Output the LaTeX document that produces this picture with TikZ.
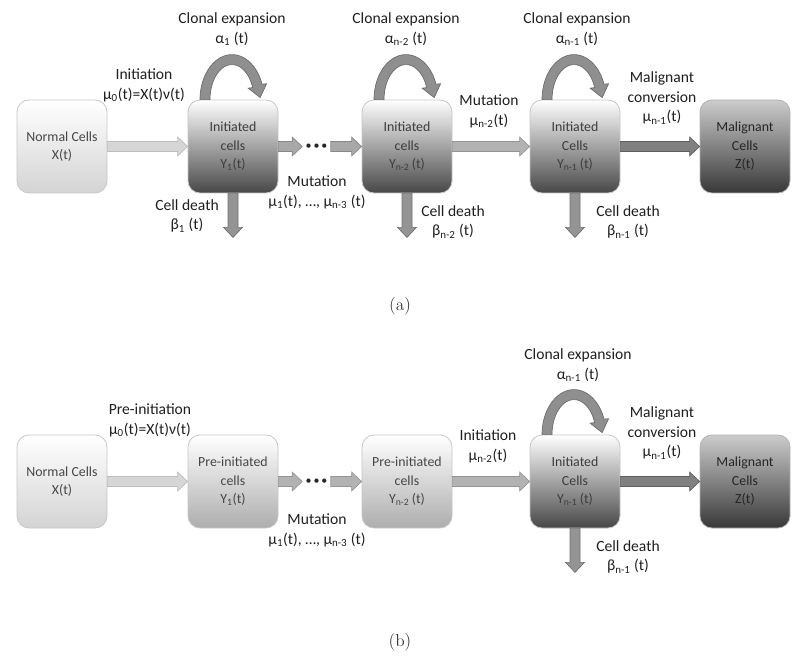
\documentclass[tikz,border=0pt]{standalone}
\usepackage{fontspec}
\newfontfamily\calfont{Carlito}
\usetikzlibrary{calc}
\newcommand\boxfont{\calfont\fontsize{10.4}{13.9}\selectfont}
\newcommand\lblfont{\calfont\fontsize{11.7}{14.8}\selectfont}
\newcommand\capfont{\fontsize{13}{15}\selectfont}
\newcommand\clonalloop[1]{%
  \filldraw[loopsty, shift={(#1.north)}]
    plot[domain=180:20, samples=36] ({-1+32*cos(\x)},{-45*sin(\x)})
    -- (33.6,-15.9) -- (27.2,-2.0) -- (15.15,-11.42)
    -- plot[domain=20:180, samples=36] ({-1+22*cos(\x)},{-35*sin(\x)})
    -- cycle;}
\begin{document}
\begin{tikzpicture}[x=0.75pt, y=-0.75pt,
  box/.style={rounded corners=9pt, minimum width=67.5pt, minimum height=69.75pt,
    draw=black!22, line width=0.6pt, align=center, font=\boxfont, text=black!72, inner sep=1pt},
  normalbox/.style={box, top color=white, bottom color=black!17},
  prebox/.style={box, top color=white, middle color=black!7, bottom color=black!32},
  initbox/.style={box, top color=white, middle color=black!12, bottom color=black!72, text=black!76},
  malbox/.style={box, top color=black!20, middle color=black!42, bottom color=black!78,
    draw=black!30, text=black!85},
  dotsn/.style={minimum width=21pt, inner sep=0pt, font=\calfont\fontsize{9}{9}\selectfont, text=black!85},
  lbl/.style={font=\lblfont, text=black!88, align=center, inner sep=0pt},
  captxt/.style={font=\capfont, text=black!80, inner sep=0pt},
  arrL/.style={fill=black!16, draw=black!26, line width=0.5pt},
  arrM/.style={fill=black!34, draw=black!47, line width=0.5pt},
  arrM2/.style={fill=black!30, draw=black!42, line width=0.5pt},
  arrD/.style={fill=black!50, draw=black!63, line width=0.5pt},
  arrV/.style={fill=black!42, draw=black!56, line width=0.5pt},
  loopsty/.style={fill=black!44, draw=black!58, line width=0.5pt},
  blk/.style={to path={
    ($(\tikztotarget)!7.5pt!(\tikztostart)$) coordinate (blkH)
    ($(\tikztostart)!3.75pt!90:(\tikztotarget)$)
    -- ($(blkH)!3.75pt!-90:(\tikztostart)$)
    -- ($(blkH)!7.1pt!-90:(\tikztostart)$)
    -- (\tikztotarget)
    -- ($(blkH)!7.1pt!90:(\tikztostart)$)
    -- ($(blkH)!3.75pt!90:(\tikztostart)$)
    -- ($(\tikztostart)!3.75pt!-90:(\tikztotarget)$)
    -- cycle}}
]
\useasboundingbox (0,0) rectangle (800,663);

% ---------------- (a) ----------------
\node[normalbox] (na) at (62,146.5) {Normal Cells\\X(t)};
\node[initbox] (y1a) at (233,146.5) {Initiated\\cells\\Y\textsubscript{1}(t)};
\node[initbox] (yn2a) at (407,146.5) {Initiated\\cells\\Y\textsubscript{n-2}\,(t)};
\node[initbox] (yn1a) at (575,146.5) {Initiated\\Cells\\Y\textsubscript{n-1}\,(t)};
\node[malbox] (ma) at (745,146.5) {Malignant\\Cells\\Z(t)};
\node[dotsn] (dotsa) at (316.5,146.5) {\textbullet\,\textbullet\,\textbullet};

\clonalloop{y1a}
\clonalloop{yn2a}
\clonalloop{yn1a}

\filldraw[arrL] (na.east) to[blk] (y1a.west);
\filldraw[arrM] (y1a.east) to[blk] (dotsa.west);
\filldraw[arrM] (dotsa.east) to[blk] (yn2a.west);
\filldraw[arrM2] (yn2a.east) to[blk] (yn1a.west);
\filldraw[arrD] (yn1a.east) to[blk] (ma.west);

\coordinate (da1) at ($(y1a.south)+(0,44)$);
\coordinate (da2) at ($(yn2a.south)+(0,44)$);
\coordinate (da3) at ($(yn1a.south)+(0,44)$);
\filldraw[arrV] (y1a.south) to[blk] (da1);
\filldraw[arrV] (yn2a.south) to[blk] (da2);
\filldraw[arrV] (yn1a.south) to[blk] (da3);

\node[lbl] (cla1) at (232,29) {Clonal expansion\\α\textsubscript{1} (t)};
\node[lbl] (cla2) at (406,29) {Clonal expansion\\α\textsubscript{n-2} (t)};
\node[lbl] (cla3) at (577,29) {Clonal expansion\\α\textsubscript{n-1} (t)};
\node[lbl] (inia) at (144,85) {Initiation\\μ\textsubscript{0}(t)=X(t)ν(t)};
\node[lbl] (cda1) at (187,216) {Cell death\\β\textsubscript{1} (t)};
\node[lbl] (muta1) at (317,192) {Mutation\\μ\textsubscript{1}(t), …, μ\textsubscript{n-3} (t)};
\node[lbl] (cda2) at (453,222) {Cell death\\β\textsubscript{n-2} (t)};
\node[lbl] (muta2) at (489,111) {Mutation\\μ\textsubscript{n-2}(t)};
\node[lbl] (cda3) at (628,222) {Cell death\\β\textsubscript{n-1} (t)};
\node[lbl] (mca) at (662,98) {Malignant\\conversion\\μ\textsubscript{n-1}(t)};
\node[captxt] (capa) at (400,306) {(a)};

% ---------------- (b) ----------------
\node[normalbox] (nb) at (62,481.5) {Normal Cells\\X(t)};
\node[prebox] (y1b) at (233,481.5) {Pre-initiated\\cells\\Y\textsubscript{1}(t)};
\node[prebox] (yn2b) at (407,481.5) {Pre-initiated\\cells\\Y\textsubscript{n-2}\,(t)};
\node[initbox] (yn1b) at (575,481.5) {Initiated\\Cells\\Y\textsubscript{n-1}\,(t)};
\node[malbox] (mb) at (745,481.5) {Malignant\\Cells\\Z(t)};
\node[dotsn] (dotsb) at (316.5,481.5) {\textbullet\,\textbullet\,\textbullet};

\clonalloop{yn1b}

\filldraw[arrL] (nb.east) to[blk] (y1b.west);
\filldraw[arrM2] (y1b.east) to[blk] (dotsb.west);
\filldraw[arrM2] (dotsb.east) to[blk] (yn2b.west);
\filldraw[arrM2] (yn2b.east) to[blk] (yn1b.west);
\filldraw[arrD] (yn1b.east) to[blk] (mb.west);

\coordinate (db3) at ($(yn1b.south)+(0,44)$);
\filldraw[arrV] (yn1b.south) to[blk] (db3);

\node[lbl] (preb) at (150,420) {Pre-initiation\\μ\textsubscript{0}(t)=X(t)ν(t)};
\node[lbl] (mutb1) at (317,530) {Mutation\\μ\textsubscript{1}(t), …, μ\textsubscript{n-3} (t)};
\node[lbl] (inib) at (488,446) {Initiation\\μ\textsubscript{n-2}(t)};
\node[lbl] (clb) at (578,365) {Clonal expansion\\α\textsubscript{n-1} (t)};
\node[lbl] (mcb) at (662,433) {Malignant\\conversion\\μ\textsubscript{n-1}(t)};
\node[lbl] (cdb) at (628,557) {Cell death\\β\textsubscript{n-1} (t)};
\node[captxt] (capb) at (400,642) {(b)};
\end{tikzpicture}
\end{document}
